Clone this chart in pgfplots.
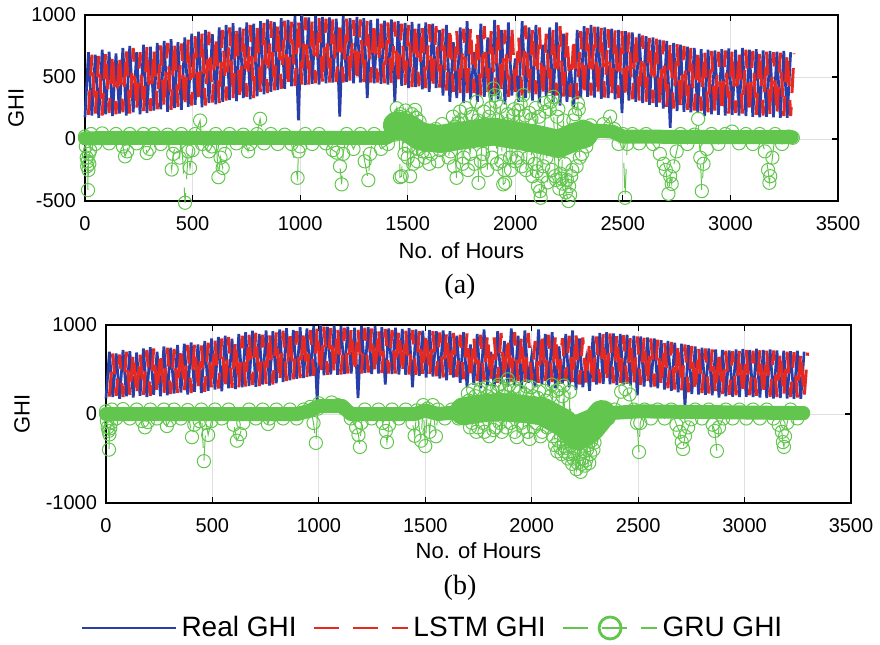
\documentclass[border=0pt]{standalone}
\usepackage{fontspec}
\setmainfont{Liberation Sans}
\newfontfamily\capfont{Liberation Serif}
\usepackage{pgfplots}
\pgfplotsset{compat=1.18}
\usepackage{pgfplotstable}

\definecolor{realblue}{RGB}{40,62,168}
\definecolor{lstmred}{RGB}{230,42,34}
\definecolor{grugreen}{RGB}{98,198,78}

% real GHI, one value every 16 h (trough, peak, trough, ...)
\pgfplotstableread[row sep=\\]{
y\\
175\\ 700\\ 190\\ 680\\ 170\\ 720\\ 200\\ 705\\ 185\\ 690\\
205\\ 735\\ 190\\ 750\\ 215\\ 700\\ 200\\ 760\\ 210\\ 745\\
230\\ 775\\ 240\\ 790\\ 220\\ 805\\ 250\\ 780\\ 235\\ 820\\
260\\ 850\\ 275\\ 865\\ 255\\ 880\\ 290\\ 845\\ 280\\ 900\\
300\\ 920\\ 315\\ 935\\ 305\\ 900\\ 330\\ 940\\ 320\\ 930\\
345\\ 950\\ 360\\ 965\\ 380\\ 945\\ 395\\ 975\\ 405\\ 960\\
425\\ 990\\ 150\\ 1000\\ 435\\ 980\\ 445\\ 995\\ 440\\ 985\\
450\\ 980\\ 455\\ 970\\ 180\\ 990\\ 460\\ 975\\ 450\\ 985\\
455\\ 975\\ 330\\ 960\\ 450\\ 970\\ 445\\ 955\\ 440\\ 965\\
300\\ 950\\ 430\\ 935\\ 410\\ 945\\ 420\\ 930\\ 400\\ 940\\
380\\ 930\\ 410\\ 880\\ 350\\ 920\\ 300\\ 780\\ 330\\ 900\\
290\\ 950\\ 320\\ 700\\ 300\\ 930\\ 340\\ 820\\ 310\\ 960\\
320\\ 880\\ 280\\ 940\\ 350\\ 650\\ 300\\ 950\\ 330\\ 900\\
310\\ 920\\ 290\\ 760\\ 340\\ 900\\ 300\\ 940\\ 270\\ 850\\
300\\ 600\\ 260\\ 880\\ 330\\ 910\\ 340\\ 920\\ 335\\ 905\\
325\\ 900\\ 330\\ 890\\ 320\\ 880\\ 210\\ 870\\ 310\\ 860\\
300\\ 850\\ 290\\ 830\\ 275\\ 820\\ 260\\ 800\\ 245\\ 790\\
90\\ 775\\ 225\\ 760\\ 220\\ 745\\ 215\\ 735\\ 210\\ 725\\
185\\ 720\\ 200\\ 715\\ 195\\ 725\\ 190\\ 730\\ 195\\ 720\\
190\\ 735\\ 185\\ 720\\ 180\\ 725\\ 175\\ 715\\ 180\\ 710\\
175\\ 705\\ 170\\ 710\\ 170\\ 700\\
}\realghi

% LSTM prediction, same spacing, half a cycle later
\pgfplotstableread[row sep=\\]{
y\\
195\\ 680\\ 205\\ 670\\ 190\\ 700\\ 210\\ 690\\ 200\\ 680\\
215\\ 720\\ 205\\ 735\\ 225\\ 700\\ 215\\ 745\\ 225\\ 730\\
240\\ 755\\ 250\\ 775\\ 235\\ 790\\ 260\\ 770\\ 250\\ 800\\
270\\ 830\\ 285\\ 850\\ 270\\ 865\\ 295\\ 830\\ 290\\ 880\\
310\\ 900\\ 325\\ 915\\ 315\\ 890\\ 340\\ 920\\ 330\\ 915\\
355\\ 935\\ 370\\ 950\\ 390\\ 930\\ 405\\ 955\\ 415\\ 945\\
430\\ 970\\ 440\\ 980\\ 440\\ 965\\ 450\\ 975\\ 445\\ 970\\
455\\ 965\\ 460\\ 955\\ 455\\ 970\\ 465\\ 960\\ 455\\ 965\\
460\\ 955\\ 455\\ 945\\ 455\\ 950\\ 450\\ 940\\ 445\\ 945\\
440\\ 930\\ 435\\ 920\\ 420\\ 930\\ 425\\ 915\\ 410\\ 925\\
400\\ 910\\ 415\\ 890\\ 390\\ 905\\ 380\\ 870\\ 370\\ 890\\
360\\ 900\\ 370\\ 860\\ 350\\ 910\\ 380\\ 870\\ 360\\ 920\\
370\\ 880\\ 340\\ 910\\ 380\\ 820\\ 350\\ 915\\ 370\\ 890\\
360\\ 900\\ 340\\ 850\\ 370\\ 880\\ 350\\ 910\\ 330\\ 860\\
340\\ 820\\ 320\\ 870\\ 345\\ 895\\ 350\\ 905\\ 345\\ 895\\
335\\ 885\\ 340\\ 875\\ 330\\ 870\\ 325\\ 860\\ 320\\ 850\\
310\\ 835\\ 300\\ 820\\ 290\\ 810\\ 275\\ 795\\ 260\\ 780\\
245\\ 765\\ 240\\ 750\\ 235\\ 735\\ 230\\ 725\\ 225\\ 715\\
215\\ 710\\ 215\\ 705\\ 210\\ 715\\ 205\\ 720\\ 210\\ 710\\
205\\ 720\\ 200\\ 710\\ 195\\ 715\\ 190\\ 705\\ 195\\ 700\\
190\\ 695\\ 185\\ 700\\ 185\\ 690\\
}\lstmghi

\pgfplotsset{
  ghiaxis/.style={
    scale only axis,
    xmin=0, xmax=3500,
    xtick={0,500,...,3500},
    tick align=inside, tick pos=both,
    major tick length=3pt,
    grid=major,
    grid style={black!12, line width=0.5pt},
    axis line style={line width=0.6pt},
    tick style={black, line width=0.6pt},
    ticklabel style={font=\fontsize{10}{12}\selectfont},
    xticklabel style={yshift=-4pt},
    yticklabel style={xshift=-1pt},
    /pgf/number format/assume math mode=true,
    /pgf/number format/1000 sep={},
    label style={font=\fontsize{11}{13}\selectfont},
    xlabel={No. of Hours},
    ylabel={GHI},
    clip=false,
  },
  realline/.style={realblue, line width=1.35pt},
  lstmline/.style={lstmred, line width=1.5pt, dash pattern=on 12.5pt off 7pt},
  gruline/.style={grugreen, line width=0.5pt, dash pattern=on 12.5pt off 7pt,
                  mark=o, mark size=3.3pt, mark options={solid}},
  grumarks/.style={grugreen, only marks, mark=o, mark size=3.3pt,
                  mark options={solid, line width=0.5pt}, forget plot},
  bandline/.style={grugreen, line width=7pt, line cap=round, line join=round, forget plot},
  clusterband/.style={grugreen, line width=14pt, line cap=round, line join=round, forget plot},
}

\begin{document}
\begin{tikzpicture}
\useasboundingbox (0,0) rectangle (440pt,-322pt);

% ---------------- (a) ----------------
\begin{axis}[ghiaxis,
    at={(42.5pt,-7.5pt)}, anchor=north west,
    width=376.5pt, height=93pt,
    ymin=-500, ymax=1000,
    ytick={-500,0,500,1000},
    xlabel style={at={(axis description cs:0.5,0)}, anchor=north, yshift=-17.5pt},
    ylabel style={at={(axis description cs:-0.0916,0.5)}, anchor=center},
]
\addplot[realline] table[x expr=\coordindex*16, y=y] {\realghi};
\addplot[lstmline] table[x expr=\coordindex*16+16, y=y] {\lstmghi};
\addplot[bandline] coordinates {
 (0,5) (200,10) (400,10) (600,10) (800,10) (1000,10) (1200,10) (1400,10)
 (1450,60) (1500,80) (1560,20) (1700,20) (1800,30) (1900,40) (2000,30)
 (2100,20) (2200,0) (2300,40) (2350,70) (2450,60) (2500,20) (3000,15) (3285,15)
};
\addplot[clusterband] coordinates {
 (1450,110) (1500,90) (1560,20) (1650,0) (1720,20) (1800,40) (1900,60)
 (2000,30) (2100,0) (2200,-40) (2280,20) (2320,40)
};
\addplot[grumarks] coordinates {
 (1455,120) (1465,200) (1475,100) (1485,-120) (1495,170) (1505,-60) (1515,120) (1525,-200)
 (1540,170) (1550,-80) (1580,-150) (1600,-200) (1640,-180) (1660,120) (1700,-100) (1715,-220)
 (1720,100) (1750,150) (1760,-150) (1780,-250) (1795,200) (1810,-200) (1825,150) (1850,-120)
 (1860,120) (1878,180) (1892,-150) (1910,300) (1920,150) (1935,-180) (1950,-250) (1960,120)
 (1975,-150) (1990,190) (2000,-180) (2015,230) (2030,-220) (2045,190) (2060,-150) (2075,160)
 (2090,-200) (2100,-260) (2110,180) (2130,-220) (2135,290) (2145,-150) (2160,240) (2170,-250)
 (2190,-330) (2200,240) (2210,-280) (2220,-360) (2230,-200) (2240,-330) (2250,-380) (2260,-300)
 (2270,150) (2285,-220) (2295,240) (2310,-120)
};
\addplot[gruline] coordinates {
 (0,20) (4,-60) (8,-150) (10,-220) (12,-180) (14,-412) (16,-250) (18,-120) (20,-200) (24,-90) (28,40)
 (48,-40) (80,45) (112,-35) (144,40) (176,-60) (186,-140) (196,-100) (208,40) (240,-35) (272,40)
 (287,-113) (300,-80) (320,40) (352,-40) (384,35) (403,-246) (410,-120) (420,-60) (440,-150)
 (448,40) (465,-514) (480,-100) (488,-233) (500,-90) (512,40) (535,149) (544,-40) (576,-100)
 (590,-60) (608,40) (620,-308) (630,-150) (640,-233) (650,-120) (672,40) (704,-35) (736,35)
 (758,-100) (768,-40) (800,40) (814,163) (832,-35) (864,40) (896,-40) (928,35) (960,-40)
 (988,-313) (992,-100) (1000,-60) (1024,40) (1056,-40) (1088,40) (1120,-35) (1152,-90)
 (1170,-110) (1185,-220) (1193,-366) (1200,-120) (1216,40) (1248,-80) (1280,40) (1300,-180)
 (1317,-332) (1325,-120) (1344,40) (1376,-80) (1408,-40) (1440,35)
 (1449,248) (1460,180) (1464,-308) (1472,-300) (1480,150) (1490,230) (1500,-150) (1511,-300)
 (1520,200) (1534,235) (1545,-180) (1555,140) (1570,-100) (1590,60) (1610,-120) (1630,80)
 (1650,-90) (1670,40) (1690,-150) (1710,180) (1727,-313) (1735,130) (1743,221) (1755,-200)
 (1770,250) (1790,-120) (1800,180) (1821,301) (1829,-353) (1840,-180) (1855,220) (1870,-250)
 (1885,250) (1898,408) (1906,355) (1915,-200) (1930,260) (1944,-366) (1953,-353) (1965,200)
 (1980,-250) (1995,240) (2010,-150) (2025,280) (2037,355) (2050,-250) (2065,210) (2080,-300)
 (2095,250) (2105,-380) (2115,-420) (2118,-474) (2125,-300) (2140,220) (2150,-350) (2165,300)
 (2177,341) (2185,-300) (2195,180) (2205,-400) (2215,-320) (2225,150) (2235,-430) (2247,-500)
 (2255,-450) (2265,-250) (2278,200) (2291,288) (2300,-150) (2315,100) (2330,-60) (2350,110)
 (2380,60) (2410,120) (2441,181) (2460,80) (2480,-40) (2500,40) (2510,-474) (2520,-40)
 (2544,40) (2576,-35) (2608,40) (2640,-40) (2672,-120) (2690,-200) (2700,-250) (2712,-442)
 (2720,-300) (2727,-362) (2735,-220) (2750,-100) (2768,40) (2800,-40) (2832,35) (2850,163)
 (2860,-150) (2867,-420) (2875,-200) (2890,-80) (2912,40) (2944,-40) (2976,40) (3008,60)
 (3040,-35) (3072,40) (3104,-40) (3136,40) (3160,-100) (3175,-250) (3181,-353) (3185,-300)
 (3195,-150) (3208,40) (3240,-40) (3270,20) (3290,10)
};
\end{axis}

% ---------------- (b) ----------------
\begin{axis}[ghiaxis,
    at={(53pt,-162.5pt)}, anchor=north west,
    width=372.5pt, height=89pt,
    ymin=-1000, ymax=1000,
    ytick={-1000,0,1000},
    xlabel style={at={(axis description cs:0.5,0)}, anchor=north, yshift=-16.5pt},
    ylabel style={at={(axis description cs:-0.1128,0.5)}, anchor=center},
    legend style={at={(0.4396,-0.702)}, anchor=center, draw=none, fill=none,
        legend columns=3, font=\fontsize{14}{17}\selectfont,
        /tikz/every even column/.append style={column sep=6pt}},
    legend cell align=left,
    legend image code/.code={\draw[mark repeat=2,mark phase=2,#1,mark size=5.5pt,line width=1.4pt]
        plot coordinates {(0pt,0pt) (23.5pt,0pt) (47pt,0pt)};},
]
\addplot[realline] table[x expr=\coordindex*16, y=y] {\realghi};
\addlegendentry{Real GHI}
\addplot[lstmline] table[x expr=\coordindex*16+16, y=y] {\lstmghi};
\addlegendentry{LSTM GHI}
\addplot[bandline] coordinates {
 (0,0) (900,0) (960,40) (1000,90) (1110,90) (1150,0) (1450,0) (1500,40) (1560,0)
 (1700,30) (1800,50) (1900,50) (2000,30) (2100,0) (2200,-100) (2300,0) (2500,30) (3275,10)
};
\addplot[clusterband] coordinates {
 (1680,30) (1750,60) (1850,80) (1950,60) (2050,30) (2150,-100) (2220,-250) (2280,-150) (2330,0)
};
\addplot[grumarks] coordinates {
 (1705,150) (1720,-100) (1735,200) (1748,-150) (1760,280) (1778,-200) (1790,200) (1805,250)
 (1820,-180) (1838,300) (1850,-100) (1865,200) (1880,-150) (1895,330) (1905,180) (1920,-200)
 (1935,260) (1950,-100) (1968,220) (1982,-200) (1998,300) (2010,-150) (2028,180) (2042,-250)
 (2058,260) (2072,-150) (2088,200) (2100,-250) (2115,260) (2125,-300) (2135,-380) (2145,200)
 (2155,-420) (2165,-300) (2175,-450) (2185,-350) (2195,-500) (2205,-380) (2215,-550) (2225,-450)
 (2235,-560) (2245,-420) (2255,-520) (2265,-350) (2275,-450) (2285,-250) (2295,-320) (2305,-150)
};
\addplot[gruline] coordinates {
 (0,30) (4,-80) (8,-150) (12,-190) (14,-400) (16,-230) (20,-160) (24,-100) (28,50) (48,-50)
 (80,55) (112,-50) (144,50) (170,-80) (183,-150) (196,-90) (208,50) (240,-50) (272,50)
 (286,-135) (300,-70) (320,50) (352,-50) (384,45) (404,-260) (415,-120) (440,-80) (448,50)
 (460,-530) (470,-100) (480,-235) (495,-80) (512,50) (544,-50) (576,50) (600,-120) (615,-300)
 (630,-225) (645,-100) (672,50) (704,-50) (736,50) (761,-112) (768,-50) (800,50) (832,-50)
 (864,50) (896,-50) (928,50) (960,80) (975,-100) (986,-325) (995,60) (1000,120) (1030,90)
 (1060,130) (1090,100) (1120,60) (1150,-50) (1175,-150) (1186,-236) (1193,-370) (1200,-100)
 (1216,50) (1248,-50) (1280,50) (1300,-100) (1315,-190) (1320,-315) (1330,-120) (1344,50)
 (1376,-50) (1408,50) (1440,-100) (1450,-245) (1460,40) (1480,-300) (1490,100) (1500,-360)
 (1510,60) (1520,-200) (1535,100) (1550,-250) (1560,50) (1592,-50) (1624,50) (1656,-50)
 (1688,40) (1700,230) (1710,-150) (1725,270) (1740,-200) (1755,250) (1770,-100) (1785,300)
 (1800,-250) (1815,260) (1830,-150) (1845,330) (1860,-200) (1875,280) (1888,390) (1900,-100)
 (1915,300) (1930,-260) (1945,250) (1960,-150) (1975,310) (1990,-280) (2005,200) (2020,-100)
 (2035,250) (2050,-200) (2065,150) (2080,-50) (2095,330) (2110,-350) (2120,-420) (2130,280)
 (2140,-450) (2150,320) (2160,-380) (2170,-500) (2180,250) (2190,-560) (2200,-450) (2210,-620)
 (2220,-300) (2230,-650) (2240,-500) (2250,-580) (2260,-400) (2270,-550) (2280,-300) (2290,-400)
 (2300,-200) (2315,-100) (2330,50) (2360,-50) (2390,50) (2420,250) (2440,280) (2460,220)
 (2480,50) (2495,-100) (2504,-427) (2510,-100) (2530,50) (2560,-50) (2592,50) (2624,-50)
 (2656,50) (2680,-120) (2695,-200) (2705,-315) (2711,-393) (2720,-250) (2735,-150) (2750,-60)
 (2768,50) (2800,-50) (2832,50) (2850,-120) (2860,-190) (2870,-415) (2880,-150) (2900,-50)
 (2912,50) (2944,-50) (2976,50) (3008,-50) (3040,50) (3072,-50) (3104,50) (3136,-50)
 (3160,-120) (3175,-200) (3180,-315) (3185,-370) (3190,-250) (3200,-100) (3216,50) (3248,-50)
 (3275,10)
};
\addlegendentry{GRU GHI}
\end{axis}

\node[font=\capfont\fontsize{14}{16}\selectfont] at (230pt,-143.5pt) {(a)};
\node[font=\capfont\fontsize{14}{16}\selectfont] at (230pt,-294pt) {(b)};
\end{tikzpicture}
\end{document}
